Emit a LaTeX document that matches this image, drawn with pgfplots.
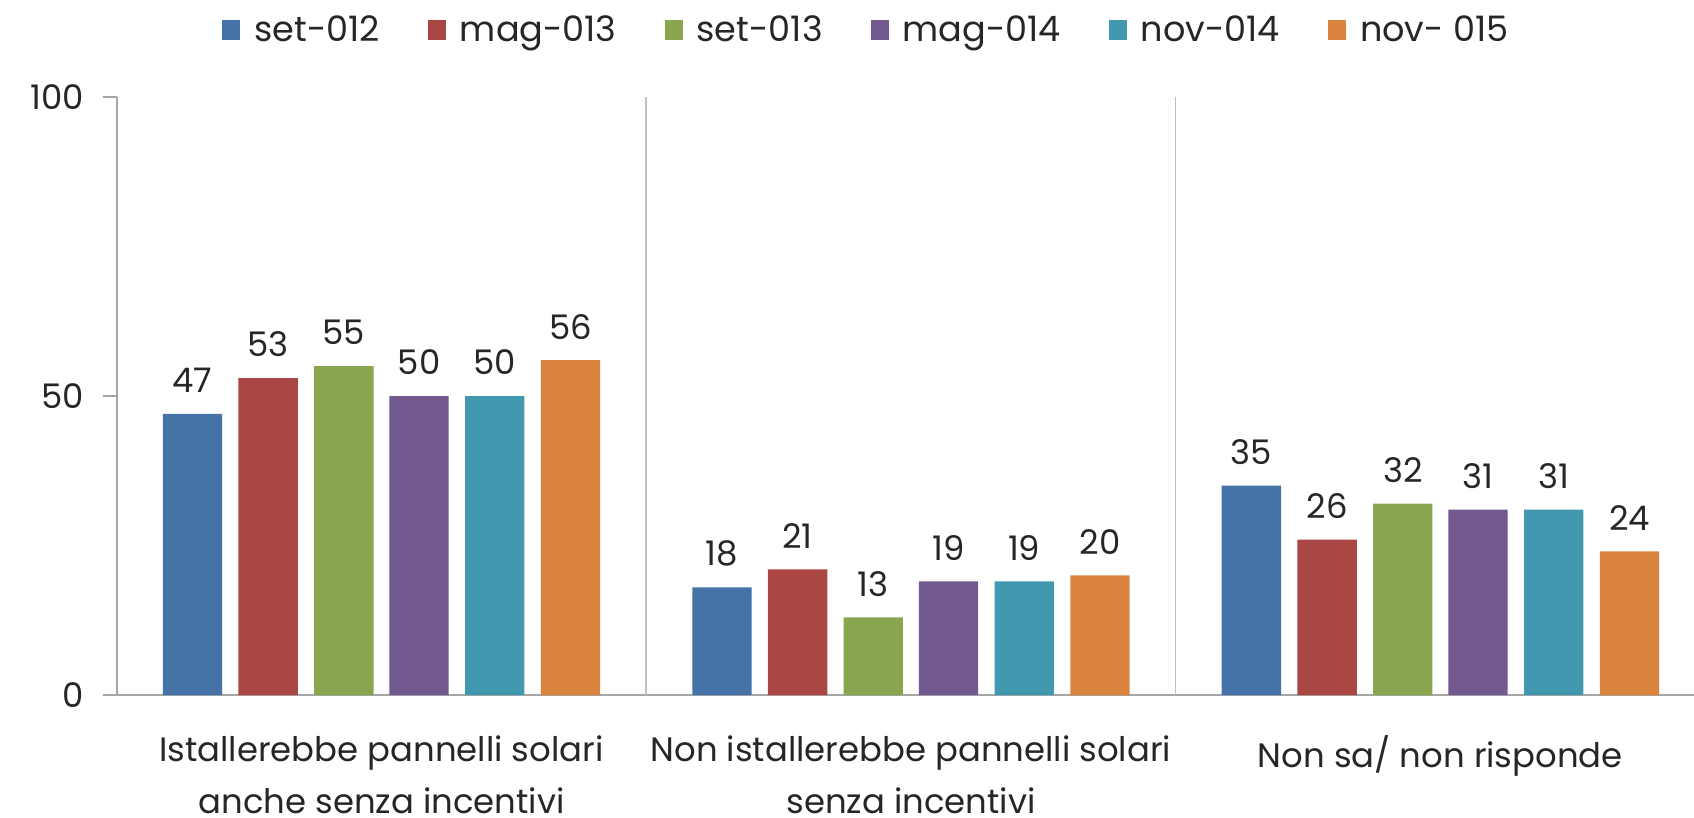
\documentclass[border=0pt]{standalone}
\usepackage{fontspec}
\setmainfont{Poppins}
\usepackage{pgfplots}
\pgfplotsset{compat=1.18}
\definecolor{c1}{HTML}{4572A7}
\definecolor{c2}{HTML}{AA4643}
\definecolor{c3}{HTML}{89A54E}
\definecolor{c4}{HTML}{71588F}
\definecolor{c5}{HTML}{4198AF}
\definecolor{c6}{HTML}{DB843D}
\definecolor{axgray}{HTML}{A6A6A6}
\definecolor{sepgray}{HTML}{BFBFBF}
\definecolor{txt}{HTML}{262626}
\newcommand{\lfont}{\fontsize{17}{26}\selectfont}
\newcommand{\gfont}{\fontsize{17.6}{26}\selectfont}
\begin{document}
\begin{tikzpicture}[x=1bp,y=1bp]
\path[use as bounding box] (0,0) rectangle (847,408.5);
\begin{axis}[
  /pgf/number format/assume math mode=true,
  at={(58.35bp,61bp)}, anchor=south west,
  scale only axis, width=788.65bp, height=299bp,
  xmin=-0.5, xmax=2.479, ymin=0, ymax=100,
  axis x line=bottom, axis y line=left,
  axis line style={-, draw=axgray, line width=0.8bp},
  ytick={0,50,100},
  ytick style={draw=axgray, line width=0.8bp},
  tick align=outside, major tick length=7bp,
  yticklabel style={font=\lfont, text=txt, xshift=-5.8bp},
  xtick={0,1,2},
  xtick style={draw=none},
  xticklabels={{Istallerebbe pannelli solari\\anche senza incentivi},{Non istallerebbe pannelli solari\\senza incentivi},{Non sa/ non risponde}},
  xticklabel style={font=\lfont, text=txt, align=center, yshift=-10bp},
  extra x ticks={0.5,1.5},
  extra x tick labels={},
  extra x tick style={grid=major, major grid style={draw=sepgray, line width=0.8bp}, tick style={draw=none}},
  ybar, bar width=0.112,
  nodes near coords,
  every node near coord/.append style={font=\lfont, text=txt, yshift=7bp},
  legend columns=6,
  legend style={at={(0.4747,1.112)}, anchor=center, draw=none, font=\gfont, text=txt,
    /tikz/every odd column/.append style={column sep=7bp},
    /tikz/every even column/.append style={column sep=24bp},
    nodes={inner xsep=0pt}},
  legend image code/.code={\fill[#1, draw=none] (0bp,-5bp) rectangle (9bp,5bp);},
]
\addplot[fill=c1, draw=none, bar shift=-0.357] coordinates {(0,47) (1,18) (2,35)};
\addplot[fill=c2, draw=none, bar shift=-0.214] coordinates {(0,53) (1,21) (2,26)};
\addplot[fill=c3, draw=none, bar shift=-0.071] coordinates {(0,55) (1,13) (2,32)};
\addplot[fill=c4, draw=none, bar shift=0.071] coordinates {(0,50) (1,19) (2,31)};
\addplot[fill=c5, draw=none, bar shift=0.214] coordinates {(0,50) (1,19) (2,31)};
\addplot[fill=c6, draw=none, bar shift=0.357] coordinates {(0,56) (1,20) (2,24)};
\legend{set-012,mag-013,set-013,mag-014,nov-014,nov- 015}
\end{axis}
\end{tikzpicture}
\end{document}
